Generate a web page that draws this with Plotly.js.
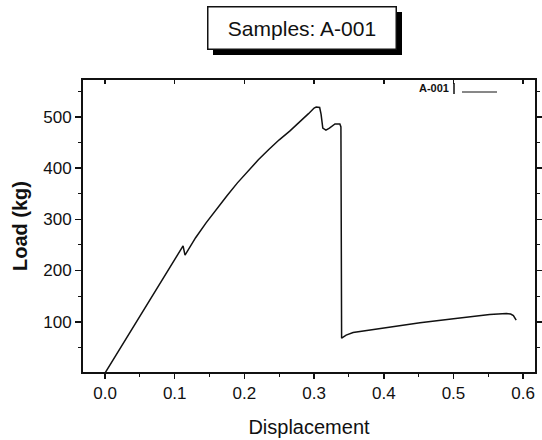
<!DOCTYPE html>
<html>
<head>
<meta charset="utf-8">
<script src="https://cdn.plot.ly/plotly-3.0.1.min.js"></script>
<style>html,body{margin:0;padding:0;background:#fff;}#chart{width:542px;height:440px;}</style>
</head>
<body>
<div id="chart"></div>
<script>
// Data
var seriesName = "A-001";
var displacement = [0, 0.03, 0.06, 0.09, 0.112, 0.1148, 0.13, 0.145, 0.16, 0.175, 0.19, 0.205, 0.22, 0.235, 0.25, 0.265, 0.28, 0.292, 0.30, 0.303, 0.308, 0.310, 0.3125, 0.317, 0.322, 0.33, 0.337, 0.3385, 0.3395, 0.346, 0.356, 0.40, 0.452, 0.50, 0.524, 0.552, 0.576, 0.582, 0.586, 0.590];
var load = [0, 66, 133, 200, 248, 230, 264, 293, 320, 346, 371, 394, 416, 436, 455, 472, 490, 506, 517, 519, 518, 505, 478, 474, 478, 486, 486, 480, 68, 74, 79, 88, 98, 106, 110, 114, 116, 115, 112, 103];
var titleText = "Samples: A-001";
var xTitle = "Displacement";
var yTitle = "Load (kg)";

var font = "Liberation Sans, Arial, sans-serif";

var traces = [
  {x: displacement, y: load, type: "scatter", mode: "lines", name: seriesName,
   line: {color: "#111", width: 1.5}, showlegend: false, hoverinfo: "skip"},
  {x: [], y: [], xaxis: "x2", type: "scatter", mode: "lines", showlegend: false}
];

function px2x(p) { return (p - 83) / 452; }
function px2y(p) { return (372 - p) / 292; }

var layout = {
  width: 542, height: 440,
  margin: {l: 83, r: 7, t: 80, b: 68},
  paper_bgcolor: "#fff", plot_bgcolor: "#fff",
  font: {family: font, color: "#111"},
  showlegend: false,
  xaxis: {
    range: [-0.0316, 0.617], dtick: 0.1, tick0: 0, tickformat: ".1f",
    showgrid: false, zeroline: false,
    showline: true, linecolor: "#111", linewidth: 2, mirror: true,
    ticks: "outside", ticklen: 5, tickwidth: 1.5, tickcolor: "#111",
    minor: {dtick: 0.05, ticks: "outside", ticklen: 3, tickwidth: 1, tickcolor: "#111"},
    tickfont: {size: 17, family: font, color: "#111"},
    title: {text: xTitle, font: {size: 20, family: font, color: "#111"}, standoff: 18}
  },
  xaxis2: {
    overlaying: "x", side: "top", range: [-0.0316, 0.617], dtick: 0.1, tick0: 0,
    showgrid: false, zeroline: false, showline: false, showticklabels: false,
    ticks: "inside", ticklen: 4, tickwidth: 1.5, tickcolor: "#111"
  },
  yaxis: {
    range: [2, 571.7], dtick: 100, tick0: 0,
    showgrid: false, zeroline: false,
    showline: true, linecolor: "#111", linewidth: 2, mirror: "ticks",
    ticks: "outside", ticklen: 6, tickwidth: 1.5, tickcolor: "#111",
    minor: {dtick: 50, ticks: "outside", ticklen: 3, tickwidth: 1, tickcolor: "#111"},
    tickfont: {size: 17, family: font, color: "#111"},
    title: {text: "<b>" + yTitle + "</b>", font: {size: 20, family: font, color: "#111"}, standoff: 10}
  },
  annotations: [
    {xref: "paper", yref: "paper", x: 0.4856, y: 1.178,
     xanchor: "center", yanchor: "middle", showarrow: false,
     text: titleText, font: {size: 21, family: font, color: "#111"},
     bgcolor: "#fff", bordercolor: "#111", borderwidth: 1.5, borderpad: 2, width: 183, height: 37},
    {xref: "paper", yref: "paper", x: px2x(451), y: px2y(88),
     xanchor: "right", yanchor: "middle", showarrow: false,
     text: "<b>" + seriesName + "</b>", font: {size: 11, family: font, color: "#111"}}
  ],
  shapes: [
    {type: "rect", xref: "paper", yref: "paper", layer: "above",
     x0: px2x(213), x1: px2x(402), y0: px2y(55), y1: px2y(12),
     fillcolor: "#000", line: {width: 0}},
    {type: "line", xref: "paper", yref: "paper",
     x0: px2x(454), x1: px2x(454), y0: px2y(83), y1: px2y(94),
     line: {color: "#111", width: 1.5}},
    {type: "line", xref: "paper", yref: "paper",
     x0: px2x(462), x1: px2x(497), y0: px2y(92), y1: px2y(92),
     line: {color: "#111", width: 1}}
  ]
};

Plotly.newPlot("chart", traces, layout, {displayModeBar: false, staticPlot: true});
</script>
</body>
</html>
